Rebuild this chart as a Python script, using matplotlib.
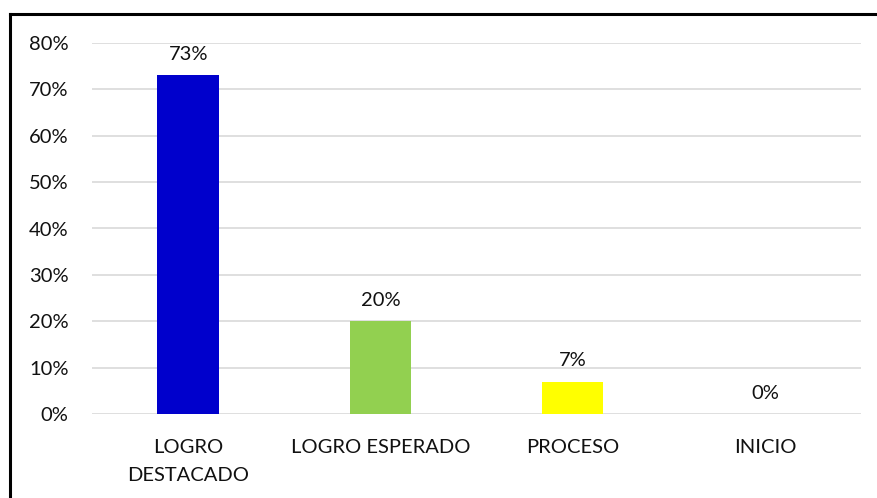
import matplotlib.pyplot as plt
from matplotlib.lines import Line2D
from matplotlib.ticker import PercentFormatter, MultipleLocator

categories = ['LOGRO\nDESTACADO', 'LOGRO ESPERADO', 'PROCESO', 'INICIO']
values = [0.73, 0.20, 0.07, 0.00]
labels = ['73%', '20%', '7%', '0%']
colors = ['#0000CC', '#92D050', '#FFFF00', '#FFFFFF']

plt.rcParams['font.family'] = ['Lato', 'DejaVu Sans']

W, H = 877, 498
fig = plt.figure(figsize=(W / 100, H / 100), dpi=100)
ax = fig.add_axes([92 / W, 1 - 414 / H, (861 - 92) / W, (414 - 43) / H])

x = range(len(categories))
bars = ax.bar(x, values, width=0.32, color=colors, zorder=3)
for b, lab in zip(bars, labels):
    ax.annotate(lab, (b.get_x() + b.get_width() / 2, b.get_height()),
                xytext=(0, 9), textcoords='offset points',
                ha='center', va='bottom', fontsize=14.5, color='#111111')

ax.set_xlim(-0.5, 3.5)
ax.set_ylim(0, 0.8)
ax.yaxis.set_major_locator(MultipleLocator(0.1))
ax.yaxis.set_major_formatter(PercentFormatter(1.0, decimals=0))
ax.set_xticks(list(x))
ax.set_xticklabels(categories, fontsize=14.5, color='#111111', linespacing=1.8)
ax.tick_params(axis='y', labelsize=14.5, length=0, pad=17, labelcolor='#111111')
ax.tick_params(axis='x', length=0, pad=18)
ax.grid(axis='y', color='#d9d9d9', linewidth=1.2, zorder=0)
for s in ax.spines.values():
    s.set_visible(False)

# outer frame (only top and left edges visible in the original crop)
fig.add_artist(Line2D([10 / W, 1], [1 - 14 / H, 1 - 14 / H], color='black', linewidth=2.2))
fig.add_artist(Line2D([10 / W, 10 / W], [0, 1 - 14 / H], color='black', linewidth=2.2))

fig.savefig('out.png', dpi=100)
